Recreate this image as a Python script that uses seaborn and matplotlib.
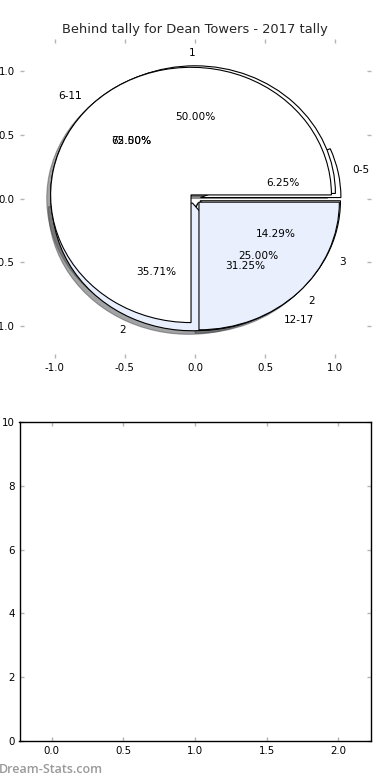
import matplotlib
matplotlib.use("Agg")
import matplotlib.pyplot as plt
import seaborn as sns

# ---- data ----
age_labels = ["0-5", "6-11", "12-17"]
age_values = [1, 10, 5]          # 6.25%, 62.50%, 31.25%
count_labels = ["1", "2", "3"]
count_values = [7, 5, 2]         # 50.00%, 35.71%, 14.29%
second_labels = ["1", "2"]
second_values = [3, 1]           # 75.00%, 25.00%
title = "Behind tally for Dean Towers - 2017 tally"
pie_ticks = [-1.0, -0.5, 0.0, 0.5, 1.0]
bottom_xticks = [0.0, 0.5, 1.0, 1.5, 2.0]
bottom_yticks = [0, 2, 4, 6, 8, 10]

sns.set_theme(style="white")
plt.rcParams.update({
    "font.family": ["DejaVu Sans"],
    "axes.unicode_minus": False,
    "xtick.direction": "in",
    "ytick.direction": "in",
    "xtick.top": True,
    "ytick.right": True,
    "xtick.bottom": True,
    "ytick.left": True,
    "xtick.color": "#b5b5b5",
    "ytick.color": "#b5b5b5",
    "xtick.labelcolor": "black",
    "ytick.labelcolor": "black",
    "xtick.major.size": 3,
    "ytick.major.size": 3,
    "xtick.major.width": 1,
    "ytick.major.width": 1,
    "xtick.labelsize": 7.4,
    "ytick.labelsize": 7.4,
    "axes.edgecolor": "black",
    "axes.linewidth": 1.0,
})

WHITE = "#ffffff"
BLUE = "#e9effc"
palette = [WHITE, BLUE]

fig, (ax1, ax2) = plt.subplots(2, 1, figsize=(3.9, 7.8), dpi=100)
fig.subplots_adjust(left=0.05, right=0.95, top=0.95, bottom=0.05, hspace=0.2)

wedge_kw = dict(edgecolor="black", linewidth=0.8)
text_kw = dict(fontsize=7.6, color="black")

for vals, labs, shad in [(age_values, age_labels, False),
                         (count_values, count_labels, True),
                         (second_values, second_labels, True)]:
    cols = [palette[i % 2] for i in range(len(vals))]
    ax1.pie(vals, labels=labs, explode=[0.04] * len(vals), colors=cols,
            autopct="%1.2f%%", shadow=shad, wedgeprops=wedge_kw,
            textprops=text_kw, frame=True)

ax1.set_aspect("auto")
ax1.set_xlim(-1.25, 1.25)
ax1.set_ylim(-1.25, 1.25)
ax1.set_xticks(pie_ticks)
ax1.set_yticks(pie_ticks)
ax1.set_xticklabels([f"{t:.1f}" for t in pie_ticks])
ax1.set_yticklabels([f"{t:.1f}" for t in pie_ticks])
for s in ax1.spines.values():
    s.set_visible(False)
ax1.set_title(title, fontsize=9.4, pad=4)

ax2.set_xlim(-0.225, 2.225)
ax2.set_ylim(0, 10)
ax2.set_xticks(bottom_xticks)
ax2.set_yticks(bottom_yticks)
ax2.set_xticklabels([f"{t:.1f}" for t in bottom_xticks])
ax2.set_yticklabels([str(t) for t in bottom_yticks])
for s in ax2.spines.values():
    s.set_visible(True)
    s.set_color("black")

fig.text(-0.004, 0.013, "Dream-Stats.com", fontsize=9.0, fontweight="semibold",
         family=["Open Sans", "DejaVu Sans"],
         color="#9a9a9a", ha="left", va="center")

fig.savefig("out.png", dpi=100)
